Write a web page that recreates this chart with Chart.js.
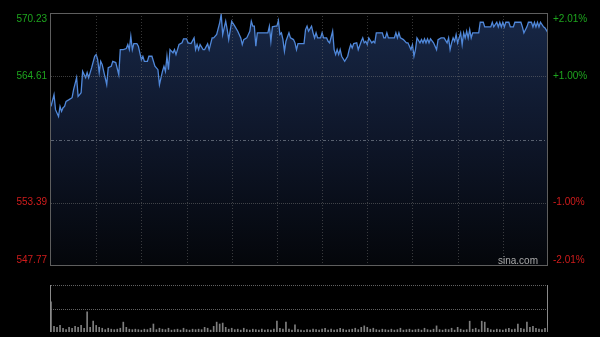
<!DOCTYPE html>
<html><head><meta charset="utf-8">
<script src="https://cdn.jsdelivr.net/npm/chart.js@4"></script>
<style>
html,body{margin:0;padding:0;background:#000;width:600px;height:337px;overflow:hidden}
#wrapA{position:absolute;left:0;top:0;width:600px;height:280px}
#wrapB{position:absolute;left:0;top:280px;width:600px;height:57px}
</style></head><body>
<div id="wrapA"><canvas id="price"></canvas></div>
<div id="wrapB"><canvas id="vol"></canvas></div>
<script>
const prevClose = 559.00;
const priceTicks = [570.23, 564.61, 559.00, 553.39, 547.77];
const pctLabels = ['+2.01%', '+1.00%', '', '-1.00%', '-2.01%'];
const timeTicks = [0, 30, 60, 90, 120, 150, 180, 210, 240, 270, 300, 330];
const sessionEnd = 330;

const minutes = [
 0,2,3,5,6,7,8,9,10,12,14,15,17,18,19,20,21,23,24,25,26,27,29,30,31,32,33,34,37,38,40,41,43,45,46,48,50,51,52,53,54,55,57,58,60,61,62,64,65,
 67,69,71,72,74,75,76,77,78,79,81,82,83,85,87,88,90,91,93,95,96,97,98,99,101,102,104,105,107,108,110,112,113,114,115,116,117,118,120,122,124,126,127,128,130,132,
 133,134,135,136,137,139,141,144,145,146,147,149,150,151,152,153,154,155,156,158,159,161,162,163,164,167,168,169,170,171,173,174,175,176,177,179,180,181,183,184,185,187,188,189,190,191,192,193,195,197,198,
 199,200,201,203,204,206,207,208,209,210,211,213,214,215,216,219,220,221,222,223,224,226,228,229,230,231,232,234,236,237,238,239,240,241,242,243,245,246,247,248,249,250,251,252,254,256,257,259,261,263,264,
 265,266,267,268,269,270,272,273,274,275,276,277,278,279,280,283,284,285,287,288,290,292,293,294,296,297,298,299,300,301,302,304,305,307,308,310,312,313,314,316,317,319,320,321,322,323,324,325,327,328,330
];
const prices = [
 561.94,562.98,561.65,561.05,561.94,561.50,561.82,561.94,562.39,562.54,562.71,563.43,564.49,562.83,562.98,563.16,565.05,564.49,564.94,564.49,564.94,565.38,566.39,566.54,566.09,564.94,565.94,565.65,563.87,565.38,565.50,565.94,565.83,564.76,566.98,566.98,567.07,567.43,566.98,568.17,566.98,567.52,567.52,567.28,566.09,566.39,565.94,565.94,566.39,
 566.39,565.50,565.20,563.87,565.05,565.50,565.05,566.39,565.20,566.98,566.69,566.98,566.54,567.43,567.58,567.94,567.94,567.58,567.52,568.02,566.98,567.43,566.98,567.43,566.98,566.98,567.49,566.98,568.02,568.02,568.32,569.36,570.10,568.32,568.91,569.50,568.76,567.87,569.50,569.06,568.61,568.02,567.43,567.87,568.02,568.61,
 569.50,569.06,569.06,567.28,568.47,568.47,568.47,568.47,569.06,567.72,569.00,569.06,569.06,569.56,568.32,568.47,567.87,566.83,567.72,568.47,568.02,567.87,567.58,566.98,567.52,567.52,567.52,568.76,569.06,568.61,569.06,568.47,568.02,568.47,568.02,568.02,568.47,568.02,568.02,567.72,567.58,568.61,566.98,566.54,566.98,566.54,566.98,566.39,565.94,566.39,566.98,
 567.43,567.13,567.52,567.58,566.98,567.72,568.02,567.58,567.72,567.43,568.02,567.58,567.72,567.58,568.47,568.47,568.47,568.02,568.02,568.47,568.02,568.02,568.02,568.47,568.02,568.47,568.02,567.87,567.58,567.58,567.28,566.98,567.43,566.39,566.98,568.02,567.58,567.87,567.58,567.94,567.58,567.94,567.58,567.94,567.58,566.98,567.87,568.02,568.02,567.58,568.02,
 566.98,567.58,568.02,567.72,568.32,567.58,568.47,567.43,568.47,568.02,568.61,568.02,568.76,568.02,568.47,568.47,568.47,569.41,569.41,569.00,569.00,569.00,569.41,569.00,569.41,569.00,569.41,569.00,569.41,569.00,569.41,569.41,569.00,569.00,569.41,569.41,569.41,569.00,568.47,569.00,569.41,569.41,569.00,569.41,569.00,569.41,569.00,569.41,569.00,568.91,568.47
];

const volStep = 2;
const volumes = [
 64,12,10,14,8,5,10,8,12,10,14,8,43,10,23,14,10,8,5,8,6,5,6,8,21,10,6,5,6,5,
 4,6,5,8,17,5,8,6,5,8,4,5,6,4,8,5,4,6,5,6,5,10,8,4,12,21,17,19,10,6,
 8,5,6,4,8,5,4,6,5,4,6,4,5,4,6,23,8,6,21,6,4,15,5,4,3,5,4,6,5,4,
 6,8,4,6,4,5,8,6,4,5,6,8,5,10,13,10,6,8,5,4,6,5,4,6,4,5,8,4,5,6,
 4,5,6,4,8,5,4,6,13,5,4,6,5,8,4,10,6,4,5,23,6,8,5,23,21,8,5,4,6,5,
 4,6,8,5,6,17,8,6,21,10,12,8,6,5,8,13
];
const volMax = 100;

const FONT = '10px "Liberation Sans", Arial, sans-serif';
const GREEN = '#1ea51e', RED = '#d01c1c';

function hline(ctx, x1, x2, y){ ctx.beginPath(); ctx.moveTo(x1, y); ctx.lineTo(x2, y); ctx.stroke(); }
function vline(ctx, x, y1, y2){ ctx.beginPath(); ctx.moveTo(x, y1); ctx.lineTo(x, y2); ctx.stroke(); }

const priceDecor = {
  id: 'priceDecor',
  afterDatasetsDraw(chart){
    const {ctx, chartArea: a, scales: {x, y}} = chart;
    ctx.save();
    ctx.lineWidth = 1;
    ctx.strokeStyle = 'rgba(110,110,110,0.5)';
    ctx.setLineDash([1, 2]);
    timeTicks.forEach(t => {
      if (t <= 0 || t >= sessionEnd) return;
      const px = Math.round(x.getPixelForValue(t)) + 0.5;
      vline(ctx, px, a.top, a.bottom);
    });
    priceTicks.forEach((v, i) => {
      if (i === 0 || i === priceTicks.length - 1) return;
      const py = Math.round(y.getPixelForValue(v)) + 0.5;
      if (v === prevClose) { ctx.setLineDash([3, 2, 1, 2]); ctx.strokeStyle = 'rgba(140,148,160,0.6)'; }
      else { ctx.setLineDash([1, 1]); ctx.strokeStyle = 'rgba(120,120,120,0.5)'; }
      hline(ctx, a.left, a.right, py);
    });
    ctx.setLineDash([]);
    ctx.strokeStyle = '#5e5e5e';
    ctx.strokeRect(a.left - 0.5, a.top + 0.5, a.right - a.left, a.bottom - a.top - 1);
    ctx.font = FONT;
    ctx.textBaseline = 'middle';
    priceTicks.forEach((v, i) => {
      let py = y.getPixelForValue(v);
      if (i === 0) py += 6;
      if (i === priceTicks.length - 1) py -= 6;
      if (v === prevClose) return;
      ctx.fillStyle = v > prevClose ? GREEN : RED;
      ctx.textAlign = 'right';
      ctx.fillText(v.toFixed(2), a.left - 4, py);
      ctx.textAlign = 'left';
      ctx.fillText(pctLabels[i], a.right + 5, py);
    });
    ctx.fillStyle = '#a8a8a8';
    ctx.textAlign = 'right';
    ctx.fillText('sina.com', a.right - 10, a.bottom - 4.5);
    ctx.restore();
  }
};

new Chart(document.getElementById('price'), {
  type: 'line',
  data: {
    datasets: [{
      data: minutes.map((m, i) => ({x: m, y: prices[i]})),
      borderColor: '#5088da',
      borderWidth: 1.3,
      pointRadius: 0,
      tension: 0,
      fill: 'start',
      backgroundColor: (c) => {
        const a = c.chart.chartArea;
        if (!a) return 'rgba(0,0,0,0)';
        const g = c.chart.ctx.createLinearGradient(0, a.top, 0, a.bottom);
        g.addColorStop(0, '#172746');
        g.addColorStop(0.5, '#0e1629');
        g.addColorStop(1, '#04060a');
        return g;
      }
    }]
  },
  options: {
    responsive: true, maintainAspectRatio: false, devicePixelRatio: 1, animation: false,
    layout: {padding: {left: 51, right: 52, top: 13, bottom: 14}},
    plugins: {legend: {display: false}, tooltip: {enabled: false}},
    scales: {
      x: {type: 'linear', display: false, min: 0, max: sessionEnd},
      y: {type: 'linear', display: false, min: priceTicks[priceTicks.length - 1], max: priceTicks[0]}
    }
  },
  plugins: [priceDecor]
});

const volDecor = {
  id: 'volDecor',
  beforeDatasetsDraw(chart){
    const {ctx, chartArea: a, scales: {y}} = chart;
    ctx.save();
    ctx.lineWidth = 1;
    ctx.strokeStyle = 'rgba(140,140,140,0.7)';
    ctx.setLineDash([1, 1]);
    [volMax, volMax / 2].forEach(v => {
      const py = Math.round(y.getPixelForValue(v)) + 0.5;
      hline(ctx, a.left, a.right, py);
    });
    ctx.setLineDash([]);
    ctx.strokeStyle = '#8a8a8a';
    vline(ctx, a.left - 0.5, a.top, a.bottom);
    vline(ctx, a.right - 0.5, a.top, a.bottom);
    ctx.restore();
  }
};

new Chart(document.getElementById('vol'), {
  type: 'bar',
  data: {
    datasets: [{
      data: volumes.map((v, i) => ({x: i * volStep, y: v})),
      backgroundColor: '#7e7e7e',
      barThickness: 1,
      borderWidth: 0
    }]
  },
  options: {
    responsive: true, maintainAspectRatio: false, devicePixelRatio: 1, animation: false,
    layout: {padding: {left: 51, right: 52, top: 5, bottom: 5}},
    plugins: {legend: {display: false}, tooltip: {enabled: false}},
    scales: {
      x: {type: 'linear', display: false, min: 0, max: sessionEnd, offset: false},
      y: {type: 'linear', display: false, min: 0, max: volMax}
    }
  },
  plugins: [volDecor]
});
</script>
</body></html>
